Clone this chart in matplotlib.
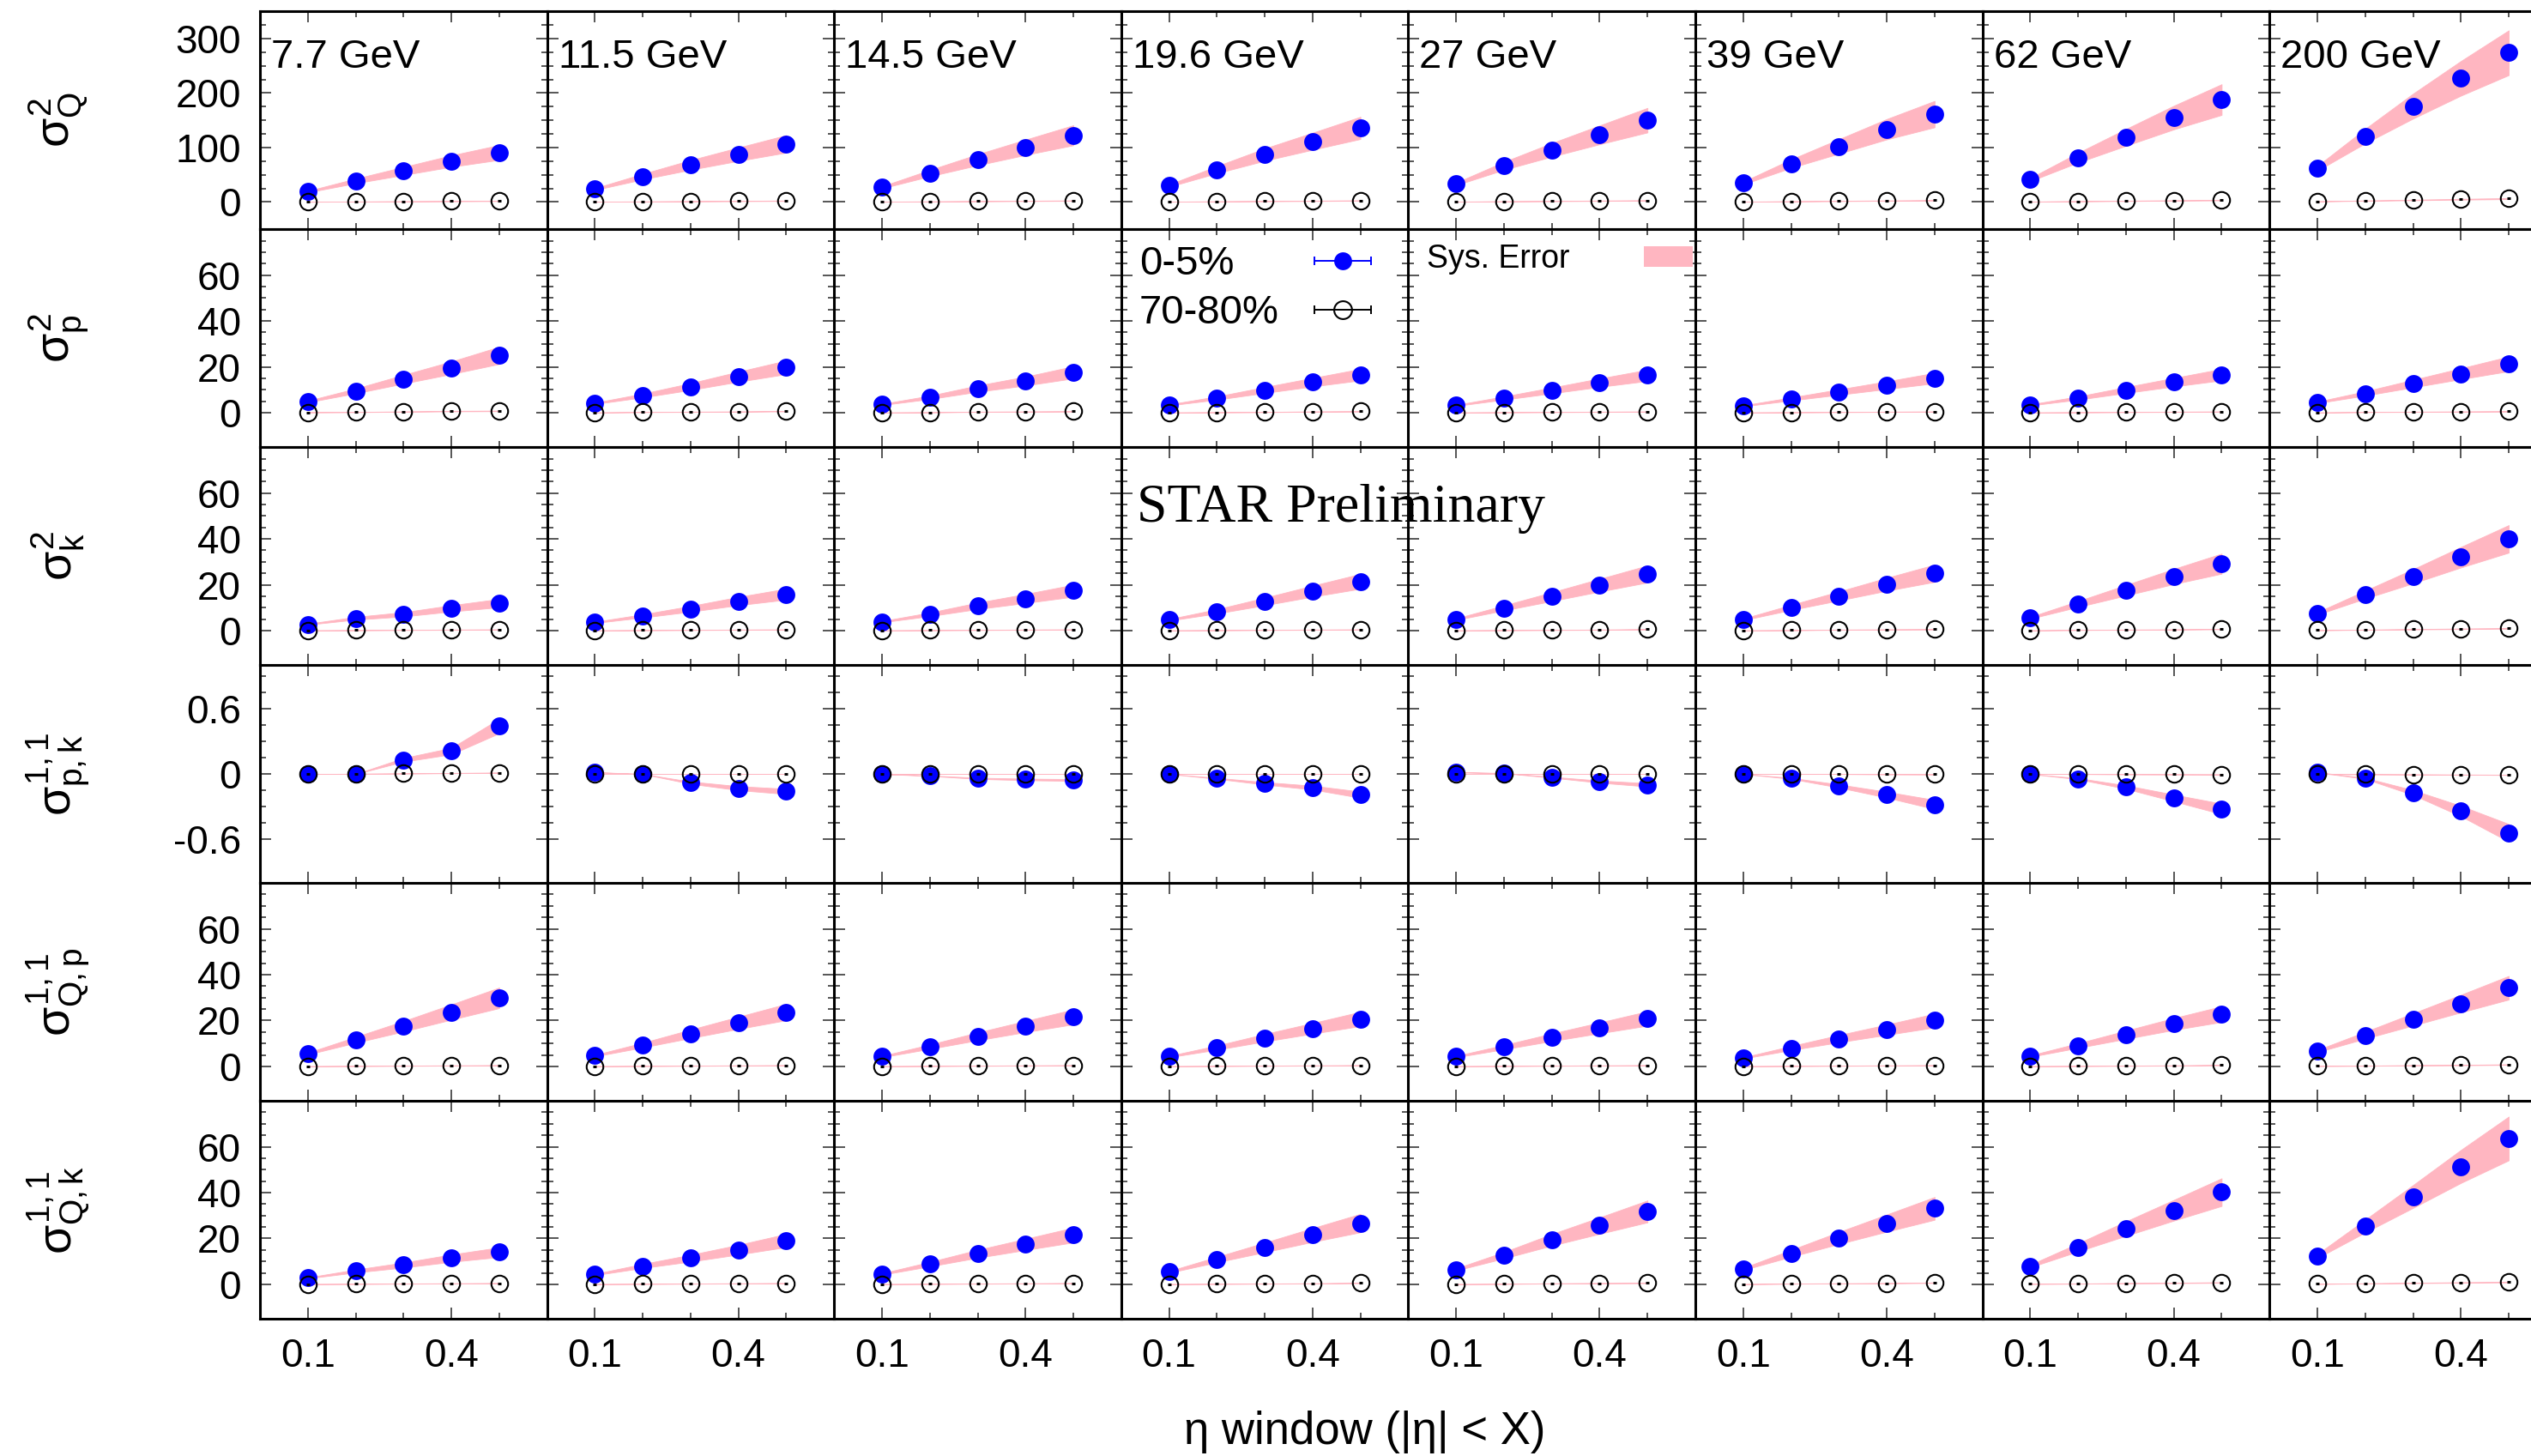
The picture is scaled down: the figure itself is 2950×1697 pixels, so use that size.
import numpy as np
import matplotlib
matplotlib.use('Agg')
import matplotlib.pyplot as plt
from matplotlib.ticker import FixedLocator, FixedFormatter, NullFormatter
from matplotlib.lines import Line2D
from matplotlib.collections import LineCollection
from matplotlib.container import ErrorbarContainer
from matplotlib.legend_handler import HandlerErrorbar
from matplotlib.patches import Patch

plt.rcParams['font.family'] = ['Liberation Sans', 'DejaVu Sans']
plt.rcParams['mathtext.fontset'] = 'custom'
plt.rcParams['mathtext.rm'] = 'Liberation Sans'
plt.rcParams['mathtext.it'] = 'Liberation Sans'
plt.rcParams['mathtext.bf'] = 'Liberation Sans:bold'

# ---------------- data ----------------
eta = [0.1, 0.2, 0.3, 0.4, 0.5]
energies = ['7.7 GeV', '11.5 GeV', '14.5 GeV', '19.6 GeV', '27 GeV', '39 GeV', '62 GeV', '200 GeV']
row_labels = [r'$\sigma^{2}_{Q}$', r'$\sigma^{2}_{p}$', r'$\sigma^{2}_{k}$',
              r'$\sigma^{1,1}_{p,k}$', r'$\sigma^{1,1}_{Q,p}$', r'$\sigma^{1,1}_{Q,k}$']

# relative systematic uncertainty per eta window
sys_rel = [0.07, 0.11, 0.13, 0.14, 0.15]

# 0-5% central
sigQ2_c = [[19.0, 38.7, 56.9, 75.1, 90.9],
           [23.7, 46.6, 68.0, 87.7, 106.7],
           [26.9, 53.0, 77.5, 100.4, 122.5],
           [30.0, 59.3, 87.0, 111.5, 136.0],
           [33.2, 66.4, 95.7, 123.3, 150.2],
           [34.8, 70.4, 102.0, 133.6, 161.3],
           [41.1, 81.4, 118.6, 155.0, 188.0],
           [61.7, 121.0, 176.0, 227.0, 274.0]]
sigp2_c = [[4.9, 9.5, 14.6, 19.6, 25.0],
           [4.1, 7.5, 11.4, 15.7, 19.8],
           [3.6, 6.7, 10.5, 13.8, 17.6],
           [3.4, 6.4, 9.9, 13.3, 16.6],
           [3.2, 6.4, 9.7, 13.1, 16.3],
           [3.0, 6.0, 9.0, 12.0, 15.1],
           [3.4, 6.4, 9.9, 13.3, 16.6],
           [4.5, 8.4, 12.7, 17.0, 21.3]]
sigk2_c = [[2.8, 5.4, 7.1, 9.7, 12.0],
           [3.6, 6.4, 9.5, 12.9, 15.9],
           [3.9, 7.1, 10.8, 14.0, 17.4],
           [4.7, 8.4, 12.7, 17.2, 21.5],
           [5.0, 9.9, 14.8, 19.8, 24.7],
           [4.9, 10.1, 15.1, 20.2, 25.0],
           [5.6, 11.6, 17.6, 23.6, 29.2],
           [7.5, 15.7, 23.7, 32.0, 40.0]]
sigpk_c = [[0.0, 0.0, 0.13, 0.21, 0.44],
           [0.016, 0.0, -0.08, -0.13, -0.16],
           [0.0, -0.016, -0.04, -0.05, -0.055],
           [0.0, -0.04, -0.086, -0.125, -0.19],
           [0.016, 0.008, -0.03, -0.07, -0.10],
           [0.0, -0.04, -0.11, -0.19, -0.28],
           [0.0, -0.043, -0.12, -0.22, -0.32],
           [0.016, -0.04, -0.17, -0.34, -0.54]]
sigQp_c = [[5.6, 11.6, 17.5, 23.7, 29.9],
           [4.7, 9.3, 14.2, 19.0, 23.7],
           [4.3, 8.6, 13.1, 17.4, 21.6],
           [4.3, 8.2, 12.5, 16.6, 20.7],
           [4.3, 8.4, 12.7, 16.8, 20.9],
           [3.7, 8.0, 12.1, 16.0, 20.0],
           [4.5, 9.1, 13.8, 18.5, 22.8],
           [6.7, 13.6, 20.5, 27.4, 34.3]]
sigQk_c = [[2.8, 5.8, 8.4, 11.4, 14.0],
           [4.3, 8.0, 11.4, 15.1, 19.1],
           [4.5, 8.8, 13.3, 17.4, 21.5],
           [5.4, 10.8, 16.1, 21.5, 26.7],
           [6.5, 12.7, 19.4, 25.6, 31.8],
           [6.7, 13.5, 20.2, 26.7, 33.1],
           [8.0, 16.1, 24.3, 32.3, 40.2],
           [12.3, 25.4, 38.3, 51.4, 63.6]]

# 70-80% peripheral
sigQ2_p = [[0.4, 0.8, 1.2, 1.6, 2.0],
           [0.5, 0.9, 1.4, 1.8, 2.3],
           [0.5, 1.0, 1.5, 2.0, 2.5],
           [0.5, 1.1, 1.6, 2.1, 2.7],
           [0.6, 1.2, 1.7, 2.3, 2.9],
           [0.6, 1.2, 1.9, 2.5, 3.1],
           [0.7, 1.4, 2.1, 2.8, 3.5],
           [1.2, 2.5, 3.7, 5.0, 6.2]]
sigp2_p = [[0.2, 0.3, 0.5, 0.7, 0.8],
           [0.1, 0.3, 0.4, 0.5, 0.7],
           [0.1, 0.2, 0.4, 0.5, 0.6],
           [0.1, 0.2, 0.3, 0.5, 0.6],
           [0.1, 0.2, 0.3, 0.4, 0.5],
           [0.1, 0.2, 0.3, 0.4, 0.5],
           [0.1, 0.2, 0.3, 0.4, 0.5],
           [0.1, 0.3, 0.4, 0.5, 0.6]]
sigk2_p = [[0.1, 0.2, 0.3, 0.4, 0.5],
           [0.1, 0.2, 0.3, 0.4, 0.5],
           [0.1, 0.2, 0.3, 0.4, 0.5],
           [0.1, 0.2, 0.3, 0.4, 0.5],
           [0.1, 0.2, 0.3, 0.4, 0.6],
           [0.1, 0.2, 0.4, 0.5, 0.6],
           [0.1, 0.3, 0.4, 0.5, 0.7],
           [0.2, 0.4, 0.6, 0.8, 1.0]]
sigpk_p = [[0.0, 0.002, 0.005, 0.008, 0.012],
           [0.0, 0.0, 0.0, 0.0, 0.0],
           [0.0, 0.0, 0.0, 0.0, 0.0],
           [0.0, 0.0, 0.0, 0.0, 0.0],
           [0.0, 0.0, 0.0, 0.0, 0.0],
           [0.0, 0.0, 0.0, -0.002, -0.003],
           [0.0, 0.0, -0.002, -0.003, -0.004],
           [0.0, -0.002, -0.004, -0.006, -0.008]]
sigQp_p = [[0.1, 0.2, 0.3, 0.4, 0.5],
           [0.1, 0.2, 0.3, 0.4, 0.5],
           [0.1, 0.2, 0.3, 0.4, 0.5],
           [0.1, 0.2, 0.3, 0.4, 0.5],
           [0.1, 0.2, 0.3, 0.4, 0.5],
           [0.1, 0.2, 0.3, 0.4, 0.5],
           [0.1, 0.2, 0.3, 0.4, 0.6],
           [0.2, 0.3, 0.5, 0.6, 0.8]]
sigQk_p = [[0.1, 0.2, 0.3, 0.4, 0.5],
           [0.1, 0.2, 0.3, 0.4, 0.5],
           [0.1, 0.2, 0.3, 0.4, 0.5],
           [0.1, 0.2, 0.3, 0.4, 0.6],
           [0.1, 0.2, 0.4, 0.5, 0.6],
           [0.1, 0.3, 0.4, 0.5, 0.7],
           [0.2, 0.3, 0.5, 0.6, 0.8],
           [0.2, 0.4, 0.6, 0.8, 1.0]]

central = [sigQ2_c, sigp2_c, sigk2_c, sigpk_c, sigQp_c, sigQk_c]
peripheral = [sigQ2_p, sigp2_p, sigk2_p, sigpk_p, sigQp_p, sigQk_p]

ylims = [(-50, 350), (-15, 80), (-15, 80), (-1.0, 1.0), (-15, 80), (-15, 80)]
ymajor = [[0, 100, 200, 300], [0, 20, 40, 60], [0, 20, 40, 60], [-0.6, 0, 0.6],
          [0, 20, 40, 60], [0, 20, 40, 60]]
ymajor_lab = [['0', '100', '200', '300'], ['0', '20', '40', '60'], ['0', '20', '40', '60'],
              ['-0.6', '0', '0.6'], ['0', '20', '40', '60'], ['0', '20', '40', '60']]
m20 = [5, 10, 15, 25, 30, 35, 45, 50, 55, 65, 70, 75]
yminor = [[25, 50, 75, 125, 150, 175, 225, 250, 275, 325], m20, m20,
          [-0.45, -0.3, -0.15, 0.15, 0.3, 0.45, 0.75, 0.9], m20, m20]
xmajor = [0.1, 0.4]
xmajor_lab = ['0.1', '0.4']
xminor = [0.2, 0.3, 0.5]

# ---------------- style ----------------
BLUE = '#0000ff'
PINK = '#ffb6c1'
TICKC = '#555555'

W, H = 2950, 1697
fig = plt.figure(figsize=(W / 100, H / 100), dpi=100)
x0, col_w = 303.0, 334.6
y0, row_h = 13.2, 253.97

axes = {}
for r in range(6):
    for c in range(8):
        left = (x0 + c * col_w) / W
        bottom = 1 - (y0 + (r + 1) * row_h) / H
        ax = fig.add_axes([left, bottom, col_w / W, row_h / H])
        axes[(r, c)] = ax
        yc = np.array(central[r][c])
        yp = np.array(peripheral[r][c])
        s = np.array(sys_rel)
        ax.fill_between(eta, yc - s * np.abs(yc), yc + s * np.abs(yc), color=PINK,
                        edgecolor=PINK, linewidth=0.6, zorder=1)
        ax.fill_between(eta, yp - s * np.abs(yp), yp + s * np.abs(yp), color=PINK,
                        edgecolor=PINK, linewidth=0.6, zorder=1)
        ax.plot(eta, yc, 'o', color=BLUE, markersize=15, markeredgewidth=0, zorder=3)
        ax.plot(eta, yp, 'o', markerfacecolor='none', markeredgecolor='black',
                markersize=14, markeredgewidth=1.5, zorder=4)
        ax.plot(eta, yp, '_', color='black', markersize=3.5, markeredgewidth=2.2, zorder=5)

        ax.set_xlim(0.0, 0.6)
        ax.set_ylim(*ylims[r])
        ax.xaxis.set_major_locator(FixedLocator(xmajor))
        ax.xaxis.set_minor_locator(FixedLocator(xminor))
        ax.yaxis.set_major_locator(FixedLocator(ymajor[r]))
        ax.yaxis.set_minor_locator(FixedLocator(yminor[r]))
        if r == 5:
            ax.xaxis.set_major_formatter(FixedFormatter(xmajor_lab))
        else:
            ax.xaxis.set_major_formatter(NullFormatter())
        if c == 0:
            ax.yaxis.set_major_formatter(FixedFormatter(ymajor_lab[r]))
        else:
            ax.yaxis.set_major_formatter(NullFormatter())
        ax.tick_params(which='both', direction='in', top=True, right=True,
                       color=TICKC, width=1.4, labelsize=33, pad=16)
        ax.tick_params(which='major', length=9.6)
        ax.tick_params(which='minor', length=5.0)
        for sp in ax.spines.values():
            sp.set_linewidth(2.2)
            sp.set_color('black')
            sp.set_zorder(6)
        if r == 0:
            ax.text(13 / col_w, 1 - 66 / row_h, energies[c], transform=ax.transAxes,
                    fontsize=34, va='baseline', ha='left')

# row labels
for r in range(6):
    fig.text(68 / W, 1 - (y0 + (r + 0.5) * row_h) / H, row_labels[r], rotation=90,
             ha='center', va='center', fontsize=40)

# x label
fig.text(1591 / W, 1 - 1669 / H, 'η window (|η| < X)', ha='center', va='center', fontsize=38)

# STAR Preliminary
fig.text(1325 / W, 1 - 608 / H, 'STAR Preliminary', family='Liberation Serif',
         fontsize=46, va='baseline', ha='left')


# legends
def eb_proxy(color, mfc, mew):
    line = Line2D([], [], color=color, marker='o', markersize=15, markerfacecolor=mfc,
                  markeredgecolor=color, markeredgewidth=mew, linestyle='none')
    cap = Line2D([], [], color=color, marker='|', markersize=7, markeredgewidth=1.4,
                 linestyle='none')
    bar = LineCollection([], colors=color, linewidths=1.4)
    return ErrorbarContainer((line, (cap, cap), (bar,)), has_xerr=True, has_yerr=False)


h_c = eb_proxy(BLUE, BLUE, 0.0)
h_p = eb_proxy('black', 'none', 1.5)
ax_l = axes[(1, 3)]
hmap = {ErrorbarContainer: HandlerErrorbar(xerr_size=0.7)}
leg_a = ax_l.legend([h_c], ['0-5%'], loc='upper left',
                    bbox_to_anchor=(21 / col_w, 1 - 19 / row_h), borderpad=0, borderaxespad=0,
                    frameon=False, markerfirst=False, fontsize=34, handlelength=1.4,
                    handletextpad=1.99, numpoints=1, handler_map=hmap)
leg_a.set_zorder(10)
ax_l.add_artist(leg_a)
leg_b = ax_l.legend([h_p], ['70-80%'], loc='upper left',
                    bbox_to_anchor=(21 / col_w, 1 - 76 / row_h), borderpad=0, borderaxespad=0,
                    frameon=False, markerfirst=False, fontsize=34, handlelength=1.4,
                    handletextpad=0.875, numpoints=1, handler_map=hmap)
leg_b.set_zorder(10)

ax_s = axes[(1, 4)]
leg2 = ax_s.legend([Patch(facecolor=PINK, edgecolor='none')], ['Sys. Error'], loc='upper left',
                   bbox_to_anchor=(22 / col_w, 1 - 17 / row_h), borderpad=0, borderaxespad=0,
                   frameon=False, markerfirst=False, fontsize=27, handlelength=1.52,
                   handleheight=0.64, handletextpad=2.3)
leg2.set_zorder(10)

fig.savefig('out.png', dpi=100)
